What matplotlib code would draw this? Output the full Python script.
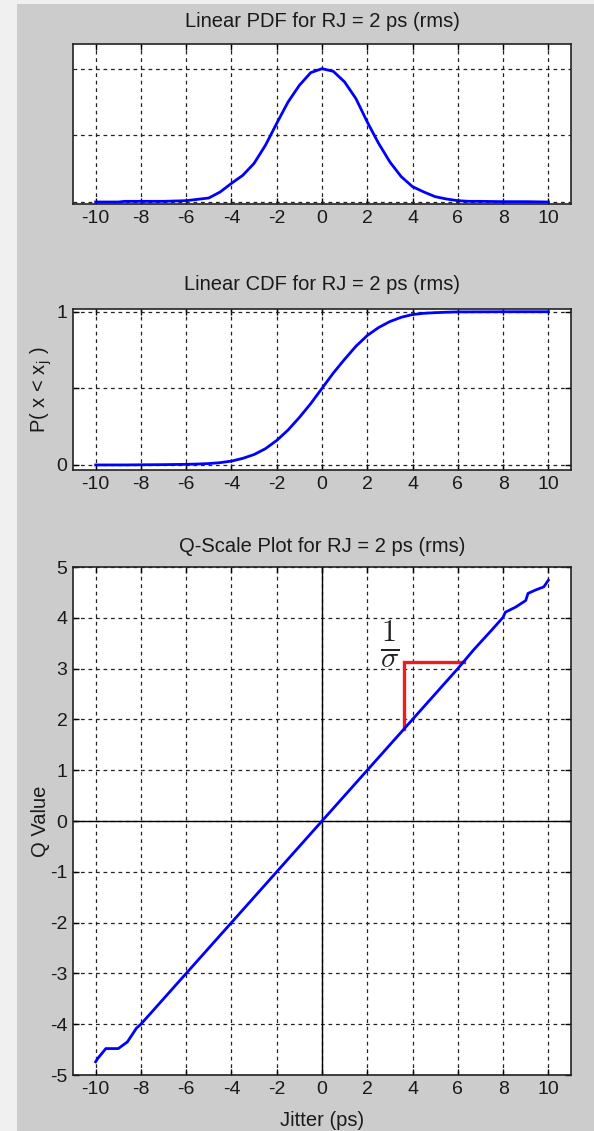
import matplotlib
matplotlib.use("Agg")
import matplotlib.pyplot as plt
from matplotlib.patches import Rectangle

# ---- data ----
jitter_ticks = [-10, -8, -6, -4, -2, 0, 2, 4, 6, 8, 10]

pdf_x = [-10, -9, -8.7, -8, -7, -6.5, -6, -5.5, -5, -4.5, -4, -3.5, -3, -2.5, -2,
         -1.5, -1, -0.5, 0, 0.5, 1, 1.5, 2, 2.5, 3, 3.5, 4, 4.5, 5, 5.5, 6,
         6.5, 7, 8, 9, 10]
pdf_y = [0.0, 0.0, 0.001, 0.001, 0.001, 0.0015, 0.002, 0.004, 0.006, 0.015, 0.028,
         0.040, 0.058, 0.085, 0.118, 0.150, 0.175, 0.194, 0.200, 0.196, 0.180,
         0.155, 0.120, 0.088, 0.060, 0.038, 0.023, 0.015, 0.008, 0.0045, 0.002,
         0.001, 0.001, 0.0005, 0.0005, 0.0]

cdf_x = [-10, -9, -8.7, -8, -7, -6, -5.5, -5, -4.5, -4, -3.5, -3, -2.5, -2, -1.5,
         -1, -0.5, 0, 0.5, 1, 1.5, 2, 2.5, 3, 3.5, 4, 4.5, 5, 5.5, 6, 7, 8, 9, 10]
cdf_y = [0.0, 0.0, 0.0, 0.001, 0.002, 0.004, 0.006, 0.009, 0.015, 0.025, 0.043,
         0.068, 0.106, 0.160, 0.228, 0.310, 0.400, 0.500, 0.600, 0.690, 0.775,
         0.845, 0.897, 0.936, 0.964, 0.982, 0.990, 0.994, 0.997, 0.999, 0.9995,
         1.0, 1.0, 1.0]

q_x = [-10, -9.9, -9.55, -9.0, -8.6, -8.2, -8.0, -7, -6, -5, -4, -3, -2, -1, 0,
       1, 2, 3, 4, 5, 6, 6.7, 7.5, 8.0, 8.1, 8.55, 9.0, 9.1, 9.45, 9.8, 10]
q_y = [-4.74, -4.67, -4.48, -4.48, -4.35, -4.08, -4.0, -3.5, -3.0, -2.5, -2.0,
       -1.5, -1.0, -0.5, 0.0, 0.5, 1.0, 1.5, 2.0, 2.5, 3.0, 3.37, 3.76, 4.01,
       4.11, 4.21, 4.34, 4.48, 4.55, 4.61, 4.74]

# slope marker (1/sigma) on the Q-scale plot
slope_x = [3.63, 3.63, 6.26]
slope_y = [1.82, 3.13, 3.13]

# ---- styling ----
plt.rcParams['font.family'] = ['Liberation Sans', 'DejaVu Sans']
plt.rcParams['mathtext.fontset'] = 'cm'
plt.rcParams['axes.unicode_minus'] = False
TXT = '#1a1a1a'
FS = 14.5
GRID = dict(color='#222222', linestyle=(0, (3, 3)), linewidth=0.9)

W, H = 594, 1131
fig = plt.figure(figsize=(W / 100, H / 100), dpi=100)
fig.patch.set_facecolor('#f0f0f0')
fig.patches.append(Rectangle((17 / W, 0), 1 - 17 / W, 1 - 4 / H,
                             transform=fig.transFigure, facecolor='#cccccc',
                             edgecolor='none', zorder=-10))


def add_axes(left, top, right, bottom):
    return fig.add_axes([left / W, 1 - bottom / H, (right - left) / W, (bottom - top) / H])


def style(ax):
    ax.set_facecolor('white')
    ax.set_xlim(-11, 11)
    ax.set_xticks(jitter_ticks)
    ax.set_xticklabels([str(t) for t in jitter_ticks])
    ax.tick_params(direction='in', length=4, width=1, top=True, right=True,
                   labelsize=14, colors='black', labelcolor=TXT, pad=4)
    for s in ax.spines.values():
        s.set_linewidth(1.2)
        s.set_color('#222222')
    ax.grid(True, **GRID)
    ax.set_axisbelow(True)


# Linear PDF
ax1 = add_axes(73, 44, 571, 204)
style(ax1)
ax1.plot(pdf_x, pdf_y, color='#0000ff', linewidth=2.0)
ax1.set_ylim(-0.003, 0.237)
ax1.set_yticks([0, 0.1, 0.2])
ax1.set_yticklabels([])
ax1.tick_params(axis='y', length=0)
ax1.set_title('Linear PDF for RJ = 2 ps (rms)', fontsize=FS, color=TXT, pad=12.5)

# Linear CDF
ax2 = add_axes(73, 309, 571, 470)
style(ax2)
ax2.plot(cdf_x, cdf_y, color='#0000ff', linewidth=2.0)
ax2.set_ylim(-0.033, 1.018)
ax2.set_yticks([0, 0.5, 1])
ax2.set_yticklabels(['0', '', '1'])
ax2.set_ylabel(r'P( x < x$_{\mathregular{j}}$ )', fontsize=FS, color=TXT, labelpad=2)
ax2.set_title('Linear CDF for RJ = 2 ps (rms)', fontsize=FS, color=TXT, pad=13.5)

# Q-scale plot
ax3 = add_axes(73, 567, 571, 1075)
style(ax3)
ax3.axhline(0, color='black', linewidth=1.0, zorder=1)
ax3.axvline(0, color='black', linewidth=1.0, zorder=1)
ax3.plot(q_x, q_y, color='#0000ff', linewidth=2.0, zorder=3)
ax3.plot(slope_x, slope_y, color='#ee1c1c', linewidth=2.4, zorder=2,
         solid_joinstyle='miter')
ax3.text(3.0, 3.47, r'$\mathbf{\frac{1}{\sigma}}$', fontsize=31, ha='center',
         va='center', color='#222222')
ax3.set_ylim(-5, 5)
ax3.set_yticks(range(-5, 6))
ax3.set_ylabel('Q Value', fontsize=FS, color=TXT, labelpad=0)
ax3.set_xlabel('Jitter (ps)', fontsize=FS, color=TXT, labelpad=10)
ax3.set_title('Q-Scale Plot for RJ = 2 ps (rms)', fontsize=FS, color=TXT, pad=11)

fig.savefig('out.png', dpi=100, facecolor=fig.get_facecolor())
